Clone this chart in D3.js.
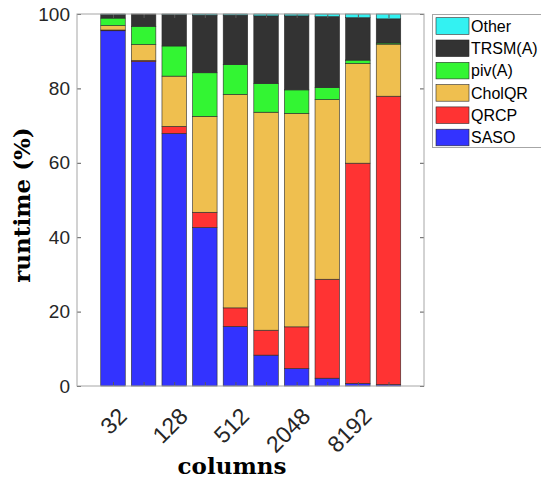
<!DOCTYPE html>
<html>
<head>
<meta charset="utf-8">
<script src="https://cdn.jsdelivr.net/npm/d3@7"></script>
<style>
  body { margin: 0; background: #fff; }
  svg { display: block; }
</style>
</head>
<body>
<section></section>
<script>
// size of the picture
var width = 541,
	height = 478;

// categories (one bar per column count), labels only on every other bar
var columns = ["32", "64", "128", "256", "512", "1024", "2048", "4096", "8192", "16384"];
var tickLabels = ["32", "", "128", "", "512", "", "2048", "", "8192", ""];

// series, bottom to top, percent of runtime
var saso   = [95.5, 87.2, 67.9, 42.6, 16.0,  8.3,  4.7,  2.1,  0.7,  0.4];
var qrcp   = [ 0.2,  0.3,  1.9,  4.1,  5.0,  6.7, 11.2, 26.6, 59.2, 77.5];
var cholqr = [ 1.2,  4.3, 13.5, 25.8, 57.4, 58.6, 57.4, 48.3, 26.8, 14.0];
var piv    = [ 2.0,  4.9,  8.1, 11.7,  8.0,  7.7,  6.3,  3.2,  0.9,  0.3];
var trsm   = [ 1.0,  3.3,  8.5, 15.5, 13.3, 18.2, 19.9, 19.1, 11.4,  6.5];
var other  = [ 0.1,  0.0,  0.1,  0.3,  0.3,  0.5,  0.5,  0.7,  1.0,  1.3];

var seriesNames = ["SASO", "QRCP", "CholQR", "piv(A)", "TRSM(A)", "Other"];
var seriesValues = [saso, qrcp, cholqr, piv, trsm, other];
var seriesColors = ["#3333ff", "#ff3333", "#efbf4f", "#33f533", "#333333", "#33f2f2"];

var yTicks = [0, 20, 40, 60, 80, 100];

// build rows for d3.stack
var rows = columns.map(function(c, i) {
	var r = {idx: i + 1};
	seriesNames.forEach(function(n, k) { r[n] = seriesValues[k][i]; });
	return r;
});

var stacked = d3.stack().keys(seriesNames)(rows);

var svg = d3.select('section')
	.append('svg')
	.attr('width', width)
	.attr('height', height);

var x = d3.scaleLinear().domain([-0.176, 11.16]).range([77, 424]);
var y = d3.scaleLinear().domain([0, 100]).range([386, 14]);
var barW = x(0.8) - x(0);

// bars
var layers = svg.append("g")
	.selectAll("g")
	.data(stacked)
	.enter().append("g")
	.attr("fill", function(d, k) { return seriesColors[k]; });

layers.selectAll("rect")
	.data(function(d) { return d; })
	.enter().append("rect")
	.attr("x", function(d) { return x(d.data.idx) - barW / 2; })
	.attr("y", function(d) { return y(d[1]); })
	.attr("width", barW)
	.attr("height", function(d) { return Math.max(0, y(d[0]) - y(d[1])); })
	.attr("stroke", "#2a2a2a")
	.attr("stroke-width", 0.6);

// axes with inward ticks
var axisColor = "#a6a6a6";
var tickFont = "Liberation Sans, Arial, sans-serif";

var yAxis = svg.append("g")
	.attr("transform", "translate(77,0)")
	.call(d3.axisLeft(y).tickValues(yTicks).tickSizeInner(-4).tickSizeOuter(0).tickPadding(7));

svg.append("g")
	.attr("transform", "translate(424,0)")
	.call(d3.axisRight(y).tickValues(yTicks).tickSizeInner(-4).tickSizeOuter(0).tickFormat(""));

var xIdx = columns.map(function(c, i) { return i + 1; });

var xAxis = svg.append("g")
	.attr("transform", "translate(0,386)")
	.call(d3.axisBottom(x).tickValues(xIdx).tickSizeInner(-4).tickSizeOuter(0)
		.tickFormat(function(d) { return tickLabels[d - 1]; }));

svg.append("g")
	.attr("transform", "translate(0,14)")
	.call(d3.axisTop(x).tickValues(xIdx).tickSizeInner(-4).tickSizeOuter(0).tickFormat(""));

svg.selectAll(".domain").remove();
svg.selectAll(".tick line").attr("stroke", "#5a5a5a");

yAxis.selectAll("text")
	.attr("font-family", tickFont)
	.attr("font-size", 19)
	.attr("fill", "#262626");

// rotated labels, right end just past the tick
xAxis.selectAll("text")
	.attr("font-family", tickFont)
	.attr("font-size", 23)
	.attr("fill", "#262626")
	.attr("text-anchor", "end")
	.attr("dy", "0.35em")
	.attr("y", 0)
	.attr("transform", "translate(9,26) rotate(-45)");

// frame
svg.append("rect")
	.attr("x", 77).attr("y", 14)
	.attr("width", 424 - 77).attr("height", 386 - 14)
	.attr("fill", "none")
	.attr("stroke", axisColor)
	.attr("stroke-width", 1);

// axis titles
var titleFont = "DejaVu Serif, serif";

svg.append("text")
	.attr("transform", "translate(30,205) rotate(-90)")
	.attr("text-anchor", "middle")
	.attr("font-family", titleFont)
	.attr("font-weight", "bold")
	.attr("font-size", 23)
	.attr("fill", "#000")
	.text("runtime (%)");

svg.append("text")
	.attr("x", 232)
	.attr("y", 474)
	.attr("text-anchor", "middle")
	.attr("font-family", titleFont)
	.attr("font-weight", "bold")
	.attr("font-size", 23)
	.attr("fill", "#000")
	.text("columns");

// legend, top entry is the last series
var legend = svg.append("g");
legend.append("rect")
	.attr("x", 432.5).attr("y", 14.5)
	.attr("width", 130).attr("height", 133)
	.attr("fill", "#fff")
	.attr("stroke", axisColor);

var legendOrder = d3.range(seriesNames.length).reverse();
var entries = legend.selectAll("g.entry")
	.data(legendOrder)
	.enter().append("g")
	.attr("class", "entry")
	.attr("transform", function(k, i) { return "translate(0," + (17.7 + i * 22.3) + ")"; });

entries.append("rect")
	.attr("x", 436).attr("y", 0)
	.attr("width", 33).attr("height", 16.6)
	.attr("fill", function(k) { return seriesColors[k]; })
	.attr("stroke", "#2a2a2a")
	.attr("stroke-width", 0.6);

entries.append("text")
	.attr("x", 471)
	.attr("y", 8.3)
	.attr("dy", "0.35em")
	.attr("font-family", tickFont)
	.attr("font-size", 16)
	.attr("fill", "#000")
	.text(function(k) { return seriesNames[k]; });
</script>
</body>
</html>
